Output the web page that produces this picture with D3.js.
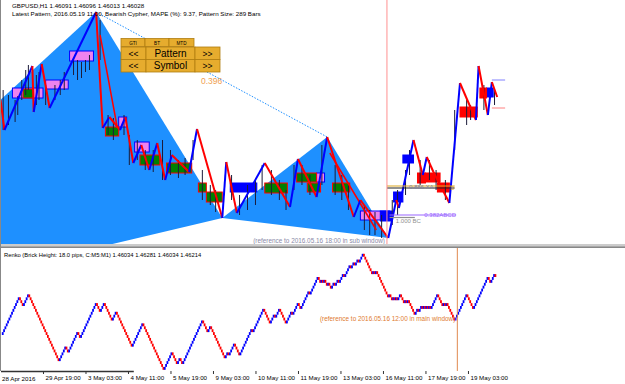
<!DOCTYPE html>
<html><head><meta charset="utf-8">
<script src="https://cdn.jsdelivr.net/npm/d3@7"></script>
<style>body{margin:0;background:#fff}svg{display:block}text{font-family:"Liberation Sans",Arial,sans-serif}</style>
</head><body><svg id="c" width="625" height="384"></svg>
<script>
// ---------- DATA ----------
const timeTickBars = [32,64,96,128,160,192,224,256,288,320,352];
const timeTickLabels = ["29 Apr 19:00","3 May 03:00","4 May 11:00","5 May 19:00","9 May 03:00","10 May 11:00","11 May 19:00","13 May 03:00","16 May 11:00","17 May 19:00","19 May 03:00"];
const firstDateLabel = "28 Apr 2016";
// main price zigzag pivots [bar, price]
const zigzag = [[0,1.4596],[3,1.4536],[24,1.4664],[25,1.4572],[31,1.4668],[37,1.4580],[72,1.4772],[77,1.4540],[82,1.4562],[90,1.4536],[94,1.4562],[100,1.4470],[106,1.4506],[112,1.4456],[118,1.4510],[124,1.4436],[129,1.4486],[142,1.4452],[148,1.4538],[167,1.4360],[170,1.4472],[178,1.4370],[199,1.4470],[218,1.4382],[224,1.4478],[238,1.4402],[246,1.4522],[266,1.4362],[271,1.4396],[292,1.4320],[298,1.4396],[300,1.4380],[311,1.4516],[318,1.4446],[321,1.4482],[326,1.4452],[338,1.4390],[346,1.4630],[358,1.4556],[360,1.4664],[367,1.4566],[370,1.4632],[374,1.4602]];
// minor legs [bar1, price1, bar2, price2]
const minorLegs = [[75,1.4726,88,1.4540],[248,1.4490,283,1.4336]];
// H1 bars [bar, high, low]
const candles = [[2,1.4616,1.4536],[6,1.4606,1.4546],[11,1.4596,1.4552],[13,1.4604,1.4566],[16,1.4636,1.4596],[19,1.4656,1.4606],[21,1.4666,1.4616],[27,1.4646,1.4586],[29,1.4652,1.4596],[34,1.4626,1.4586],[41,1.4626,1.4596],[45,1.4636,1.4606],[48,1.4652,1.4616],[55,1.4680,1.4646],[58,1.4676,1.4636],[61,1.4672,1.4640],[64,1.4676,1.4652],[67,1.4686,1.4656],[75,1.4756,1.4676],[81,1.4566,1.4526],[85,1.4560,1.4516],[93,1.4566,1.4526],[97,1.4526,1.4466],[103,1.4516,1.4476],[109,1.4496,1.4456],[115,1.4496,1.4452],[122,1.4516,1.4436],[128,1.4496,1.4446],[134,1.4476,1.4440],[139,1.4480,1.4446],[145,1.4516,1.4476],[152,1.4456,1.4396],[158,1.4426,1.4386],[162,1.4416,1.4372],[174,1.4446,1.4396],[180,1.4406,1.4366],[186,1.4426,1.4376],[192,1.4436,1.4386],[197,1.4466,1.4416],[204,1.4456,1.4406],[210,1.4436,1.4396],[215,1.4416,1.4376],[221,1.4466,1.4416],[227,1.4466,1.4426],[233,1.4446,1.4406],[242,1.4506,1.4426],[252,1.4466,1.4406],[257,1.4446,1.4396],[262,1.4426,1.4376],[274,1.4386,1.4336],[278,1.4376,1.4326],[282,1.4372,1.4326],[287,1.4366,1.4320],[295,1.4396,1.4346],[299,1.4416,1.4366],[305,1.4456,1.4406],[308,1.4496,1.4446],[316,1.4476,1.4426],[323,1.4476,1.4436],[328,1.4456,1.4416],[335,1.4436,1.4396],[342,1.4576,1.4496],[351,1.4596,1.4546],[354,1.4586,1.4556],[364,1.4626,1.4576],[372,1.4616,1.4586]];
// harmonic pattern points X A B C D [bar, price]
const patternXABCD = [[-189,1.4136],[72,1.4772],[167,1.4360],[246,1.4522],[292,1.4320]];
const ratioAC = "0.396";
// zones [bar1, bar2, top, bottom]
const violetZones = [[9,32,1.4620,1.4600],[34,51,1.4636,1.4618],[52,70,1.4694,1.4674],[89,95,1.4562,1.4542],[101,112,1.4512,1.4492],[238,244,1.4450,1.4432],[271,293,1.4374,1.4356]];
const greenZones = [[17,25,1.4618,1.4600],[79,89,1.4542,1.4524],[105,120,1.4486,1.4466],[125,144,1.4470,1.4450],[149,155,1.4430,1.4412],[155,167,1.4412,1.4392],[199,216,1.4430,1.4410],[223,238,1.4450,1.4432],[231,241,1.4430,1.4412],[250,263,1.4430,1.4412]];
const blueZones = [[173,193,1.4430,1.4412],[286,295,1.4374,1.4354],[296,303,1.4412,1.4392],[303,311,1.4486,1.4470],[366,371,1.4620,1.4602]];
const redZones = [[314,320,1.4450,1.4430],[320,331,1.4450,1.4432],[329,338,1.4430,1.4412],[346,359,1.4582,1.4562],[361,366,1.4620,1.4600]];
// projection levels [bar1, bar2, price, label]
const levelLines = [[293,343,1.4366,"0.382ABCD"],[293,312,1.4361,"1.000 BC"],[291,342,1.4424,"0.886 XA"],[291,342,1.4420,"D"]];
const lastBarLines = [[370,380,1.4636],[370,380,1.4580]];
// renko brick runs (+ up bricks, - down bricks)
const renkoRuns = [13,-3,4,-23,5,-2,7,-2,12,-3,3,-6,3,-12,8,-16,6,-4,2,-2,15,-4,2,-11,2,-1,4,-4,
 9,-1,8,-5,3,-1,3,-5,4,-1,4,-2,6,-1,6,
 -2,1,-1,1,-2,1,-2,2,-1,2,-1,3,-1,4,-1,2,-1,2,-1,3,
 -7,1,-1,1,-9, 1,-2,1,-1,1,-1,2, -3,1,-1,1,-5,
 2,-1,2,-1,1,-1,1,-1,1,-1,5, -4,1,-1,1,-6, 9,-5,11,-2,3,-1];
const refMainBar = 291;   // 2016.05.16 12:00
const refSubBar = 344;
const mainTitle = "GBPUSD,H1  1.46091 1.46096 1.46013 1.46028";
const patternTitle = "Latest Pattern, 2016.05.19 11:00, Bearish Cypher, MAPE (%): 9.37, Pattern Size: 289 Bars";
const renkoTitle = "Renko (Brick Height: 18.0 pips, C:M5:M1) 1.46034 1.46281 1.46034 1.46214";

// ---------- SCALES ----------
const svg = d3.select("#c");
const W = 625, mainBottom = 244, subTop = 248, subBottom = 371;
const x = d3.scaleLinear().domain([0,100]).range([0.5,133.3]);
const y = d3.scaleLinear().domain([1.4310,1.4796]).range([243,0]);
const yR = d3.scaleLinear().domain([0,28]).range([335,253.8]);

svg.append("defs").append("clipPath").attr("id","mc").append("rect").attr("x",0).attr("y",0).attr("width",W).attr("height",mainBottom);
const main = svg.append("g").attr("clip-path","url(#mc)");

// pattern triangles
const P = patternXABCD;
const tri = (a,b,c)=> [a,b,c].map(d=>[x(d[0]),y(d[1])]);
main.selectAll("path.tri").data([tri(P[0],P[1],P[2]), tri(P[2],P[3],P[4])]).join("path")
  .attr("d",d=>"M"+d.join("L")+"Z").attr("fill","#1e90ff");
// A-C dotted
main.append("line").attr("x1",x(P[1][0])).attr("y1",y(P[1][1])).attr("x2",x(P[3][0])).attr("y2",y(P[3][1]))
  .attr("stroke","#1e90ff").attr("stroke-width",1).attr("stroke-dasharray","1.5,1.5");
main.append("text").attr("x",(x(P[1][0])+x(P[3][0]))/2).attr("y",(y(P[1][1])+y(P[3][1]))/2+9)
  .attr("text-anchor","middle").attr("font-size",8.5).attr("fill","#f0a050").text(ratioAC);

// zones
function zones(data, fill, stroke){
  main.append("g").selectAll("rect").data(data).join("rect")
   .attr("x",d=>x(d[0])).attr("y",d=>y(d[2])).attr("width",d=>x(d[1])-x(d[0])).attr("height",d=>y(d[3])-y(d[2]))
   .attr("fill",fill).attr("stroke",stroke).attr("stroke-width",1);
}
zones(violetZones,"#ee82ee","#0000ff");
zones(greenZones,"#008000","#ff0000");
zones(blueZones,"#0000ff","#0000ff");
zones(redZones,"#ff0000","#ff0000");

// candles
main.append("g").selectAll("line").data(candles).join("line")
  .attr("x1",d=>x(d[0])).attr("x2",d=>x(d[0])).attr("y1",d=>y(d[1])).attr("y2",d=>y(d[2]))
  .attr("stroke","#1c1c3a").attr("stroke-width",1);

// minor legs
main.append("g").selectAll("line").data(minorLegs).join("line")
  .attr("x1",d=>x(d[0])).attr("y1",d=>y(d[1])).attr("x2",d=>x(d[2])).attr("y2",d=>y(d[3]))
  .attr("stroke","#ff0000").attr("stroke-width",1.5);
// zigzag
const segs = d3.pairs(zigzag);
main.append("g").selectAll("line").data(segs).join("line")
  .attr("x1",d=>x(d[0][0])).attr("y1",d=>y(d[0][1])).attr("x2",d=>x(d[1][0])).attr("y2",d=>y(d[1][1]))
  .attr("stroke",d=>d[1][1]>d[0][1]?"#0000ff":"#ff0000").attr("stroke-width",2);

// level lines
const lvlCol = ["#9966ff","#909090","#daa520","#222"];
levelLines.forEach((d,i)=>{
  main.append("line").attr("x1",x(d[0])).attr("x2",x(d[1])).attr("y1",y(d[2])).attr("y2",y(d[2])).attr("stroke",lvlCol[i]).attr("stroke-width",1.2);
});
main.append("text").attr("x",x(levelLines[0][1])).attr("y",y(levelLines[0][2])+2).attr("text-anchor","end").attr("font-size",6).attr("fill","#9966ff").text(levelLines[0][3]);
main.append("text").attr("x",x(levelLines[1][1])+6).attr("y",y(levelLines[1][2])+5).attr("text-anchor","end").attr("font-size",6).attr("fill","#909090").text(levelLines[1][3]);
main.append("text").attr("x",x(levelLines[2][0])+22).attr("y",y(levelLines[2][2])+3).attr("font-size",6).attr("fill","#8080a0").text(levelLines[2][3]);
main.append("text").attr("x",x(levelLines[3][1])).attr("y",y(levelLines[3][2])+2).attr("text-anchor","end").attr("font-size",6).attr("fill","#daa520").text(levelLines[3][3]);
main.append("g").selectAll("line").data(lastBarLines).join("line")
  .attr("x1",d=>x(d[0])).attr("x2",d=>x(d[1])).attr("y1",d=>y(d[2])).attr("y2",d=>y(d[2]))
  .attr("stroke",(d,i)=>i?"#ff8080":"#8080ff").attr("stroke-width",1);

// reference vertical line main
main.append("line").attr("x1",x(refMainBar)).attr("x2",x(refMainBar)).attr("y1",0).attr("y2",mainBottom).attr("stroke","#ff9090").attr("stroke-width",1);
main.append("text").attr("x",x(refMainBar)-2).attr("y",mainBottom-1).attr("text-anchor","end").attr("font-size",6.4).attr("fill","#8a8aa8").text("(reference to 2016.05.16 18:00 in sub window)");

// titles
svg.append("text").attr("x",12).attr("y",8).attr("font-size",6.2).text(mainTitle);
svg.append("text").attr("x",12).attr("y",16).attr("font-size",6.2).text(patternTitle);

// panel
const pan = svg.append("g");
const gold="#e6ac2e", goldB="#b07d10";
[["GTI",121,24],["BT",145,24],["MTD",169,25]].forEach(t=>{
  pan.append("rect").attr("x",t[1]).attr("y",38.5).attr("width",t[2]).attr("height",8).attr("fill",gold).attr("stroke",goldB).attr("stroke-width",0.8);
  pan.append("text").attr("x",t[1]+t[2]/2).attr("y",44.5).attr("text-anchor","middle").attr("font-size",4.6).text(t[0]);
});
[["Pattern",47],["Symbol",59.5]].forEach(r=>{
  [[121,25,"<<"],[146,49,r[0]],[195,25,">>"]].forEach(c=>{
    pan.append("rect").attr("x",c[0]).attr("y",r[1]).attr("width",c[1]).attr("height",12.5).attr("fill",gold).attr("stroke",goldB).attr("stroke-width",0.8);
    pan.append("text").attr("x",c[0]+c[1]/2).attr("y",r[1]+9.8).attr("text-anchor","middle").attr("font-size",c[2].length>2?10:8.5).text(c[2]);
  });
});

// separators & frame
svg.append("rect").attr("x",0).attr("y",mainBottom+0.5).attr("width",W).attr("height",1).attr("fill","#999");
svg.append("rect").attr("x",0).attr("y",mainBottom+2.5).attr("width",W).attr("height",1.2).attr("fill","#555");
svg.append("line").attr("x1",0.5).attr("x2",0.5).attr("y1",0).attr("y2",subBottom).attr("stroke","#888");

// ---------- RENKO ----------
const sub = svg.append("g");
sub.append("text").attr("x",4).attr("y",257).attr("font-size",5.8).text(renkoTitle);
let lvl=0, idx=0; const bricks=[];
renkoRuns.forEach(r=>{ const s=Math.sign(r); for(let k=0;k<Math.abs(r);k++){ bricks.push({i:idx++, lo:s>0?lvl:lvl-1, up:s>0}); lvl+=s; } });
sub.selectAll("rect.b").data(bricks).join("rect")
  .attr("x",d=>x(d.i+1)).attr("y",d=>yR(d.lo+1)).attr("width",1.8).attr("height",d=>yR(d.lo)-yR(d.lo+1))
  .attr("fill",d=>d.up?"#0000ff":"#ff0000");
sub.append("line").attr("x1",x(refSubBar)).attr("x2",x(refSubBar)).attr("y1",subTop).attr("y2",subBottom).attr("stroke","#e08a50").attr("stroke-width",1);
sub.append("text").attr("x",x(refSubBar)-2).attr("y",321).attr("text-anchor","end").attr("font-size",6.4).attr("fill","#e07b30").text("(reference to 2016.05.16 12:00 in main window)");

// ---------- TIME AXIS ----------
const ax = svg.append("g").attr("transform",`translate(0,${subBottom})`)
  .call(d3.axisBottom(x).tickValues(timeTickBars).tickFormat((d,i)=>timeTickLabels[i]).tickSize(3).tickSizeOuter(0));
ax.select(".domain").attr("stroke","#333").attr("stroke-width",1.5);
ax.selectAll(".tick line").attr("stroke","#333");
ax.selectAll(".tick text").attr("text-anchor","start").attr("dx",2).attr("y",5).attr("font-size",6.2).attr("font-family","Liberation Sans, Arial").attr("fill","#000");
svg.append("text").attr("x",2).attr("y",381).attr("font-size",6.2).text(firstDateLabel);
</script></body></html>
